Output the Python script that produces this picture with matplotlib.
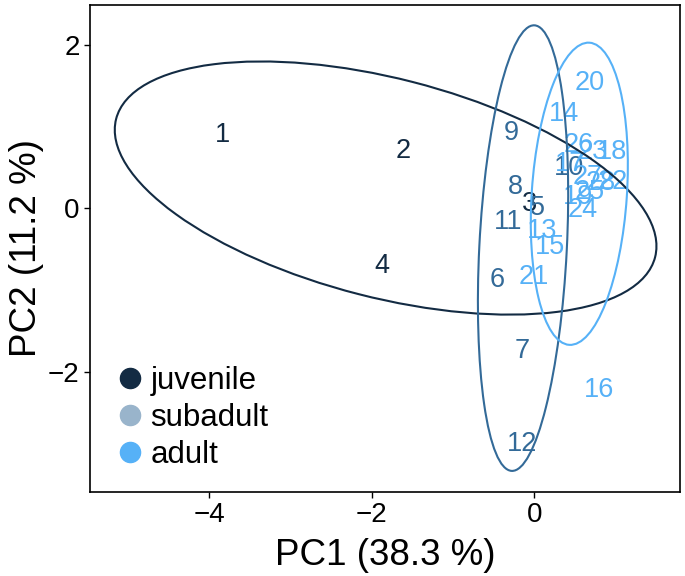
import matplotlib
matplotlib.use("Agg")
import matplotlib.pyplot as plt
from matplotlib.patches import Ellipse
from matplotlib.lines import Line2D

plt.rcParams["font.family"] = ["Liberation Sans", "DejaVu Sans"]

# PC scores per specimen
juvenile_ids = ["1", "2", "3", "4"]
juvenile_pc1 = [-3.83, -1.62, -0.06, -1.88]
juvenile_pc2 = [0.90, 0.70, 0.06, -0.71]

subadult_ids = ["5", "6", "7", "8", "9", "10", "11", "12"]
subadult_pc1 = [0.04, -0.46, -0.15, -0.24, -0.28, 0.43, -0.32, -0.155]
subadult_pc2 = [0.00, -0.88, -1.74, 0.26, 0.92, 0.49, -0.16, -2.88]

adult_ids = ["13", "14", "15", "16", "17", "18", "19", "20",
             "21", "22", "23", "24", "25", "26", "27", "28"]
adult_pc1 = [0.09, 0.36, 0.19, 0.80, 0.44, 0.95, 0.54, 0.685,
             -0.01, 0.96, 0.72, 0.59, 0.68, 0.54, 0.65, 0.82]
adult_pc2 = [-0.27, 1.16, -0.47, -2.22, 0.55, 0.69, 0.135, 1.53,
             -0.84, 0.32, 0.69, -0.02, 0.20, 0.78, 0.39, 0.31]

groups = ["juvenile", "subadult", "adult"]
group_colors = ["#132B43", "#336A98", "#56B1F7"]
legend_colors = ["#132B43", "#99B4CB", "#56B1F7"]

# 95% ellipses (center, full width, full height, angle in degrees)
ellipse_center = [(-1.83, 0.25), (-0.14, -0.485), (0.552, 0.18)]
ellipse_width = [6.84, 5.46, 3.706]
ellipse_height = [2.68, 1.076, 1.17]
ellipse_angle = [-14.3, 87.07, 86.15]

fig = plt.figure(figsize=(6.85, 5.76), dpi=100)
ax = fig.add_axes([0.1314, 0.1458, 0.8613, 0.8455])

data = [(juvenile_ids, juvenile_pc1, juvenile_pc2),
        (subadult_ids, subadult_pc1, subadult_pc2),
        (adult_ids, adult_pc1, adult_pc2)]

for (ids, xs, ys), col in zip(data, group_colors):
    for lab, x, y in zip(ids, xs, ys):
        ax.text(x, y, lab, color=col, fontsize=19.5, ha="center", va="center")

for c, w, h, a, col in zip(ellipse_center, ellipse_width, ellipse_height,
                           ellipse_angle, group_colors):
    ax.add_patch(Ellipse(c, w, h, angle=a, fill=False, edgecolor=col,
                         linewidth=1.5, zorder=3))

ax.set_xlim(-5.465, 1.79)
ax.set_ylim(-3.47, 2.49)
ax.set_xticks([-4, -2, 0])
ax.set_yticks([-2, 0, 2])
ax.tick_params(labelsize=20, length=4.5, width=1.0, pad=3, colors="black")
for s in ax.spines.values():
    s.set_linewidth(1.2)

ax.set_xlabel("PC1 (38.3 %)", fontsize=26.5, labelpad=7)
ax.set_ylabel("PC2 (11.2 %)", fontsize=26.5, labelpad=3)

handles = [Line2D([], [], marker="o", ls="", color=c, markersize=14.5)
           for c in legend_colors]
ax.legend(handles, groups, loc="upper left", bbox_to_anchor=(0.173, 0.365),
          bbox_transform=fig.transFigure, frameon=False, fontsize=22.5,
          handlelength=0.72, handletextpad=0.3, labelspacing=0.22,
          borderpad=0, borderaxespad=0)

fig.savefig("out.png", dpi=100)
